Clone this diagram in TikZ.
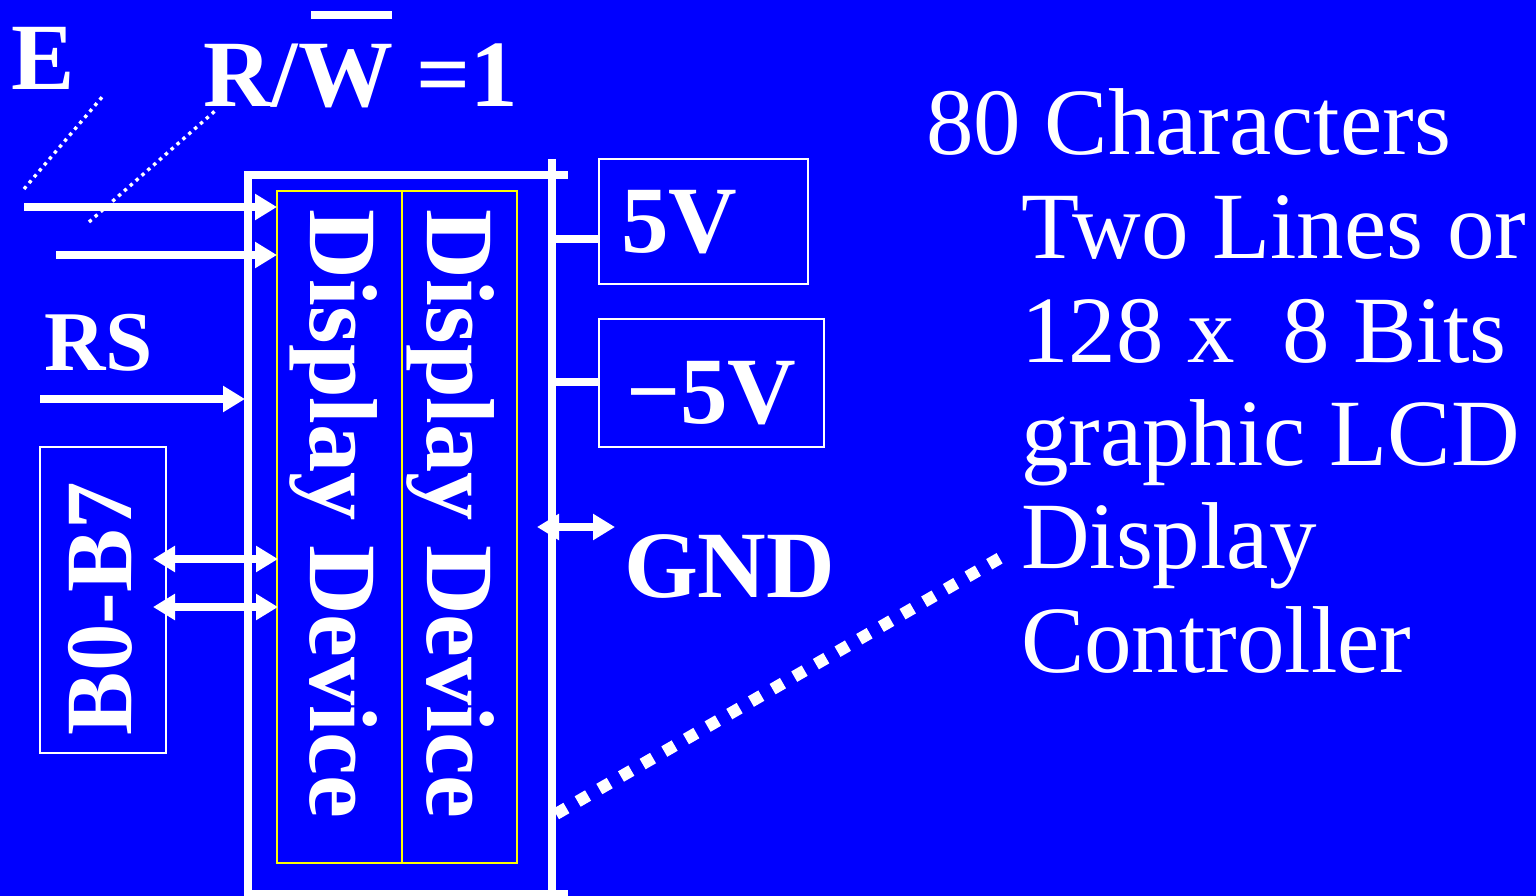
\documentclass[tikz,border=0pt]{standalone}
\usepackage{fontspec}
\setmainfont{Liberation Serif}
\usetikzlibrary{arrows.meta}
\definecolor{bgblue}{RGB}{0,0,255}
\definecolor{ylw}{RGB}{255,255,0}
\tikzset{
  wl/.style={draw=white,line width=7.5pt},
  arr/.style={wl,-{Triangle[length=22pt,width=25pt]}},
  darr/.style={wl,{Triangle[length=22pt,width=25pt]}-{Triangle[length=22pt,width=25pt]}},
  lbl/.style={text=white,font=\fontsize{95}{95}\selectfont\bfseries,inner sep=0pt,outer sep=0pt,anchor=base west},
  desc/.style={text=white,font=\fontsize{95}{95}\selectfont,inner sep=0pt,outer sep=0pt,anchor=base west},
  wbox/.style={draw=white,line width=2pt,inner sep=0pt,outer sep=0pt,anchor=north west},
  fine/.style={draw=white,line width=3.4pt,dash pattern=on 3.4pt off 4.4pt},
  coarse/.style={draw=white,line width=12pt,dash pattern=on 12pt off 13pt}
}
\begin{document}
\begin{tikzpicture}[x=1pt,y=-1pt]
\useasboundingbox (0,0) rectangle (1536,896);
\clip (0,0) rectangle (1536,896);
\fill[bgblue] (0,0) rectangle (1536,896);

% labels
\node[lbl] (E) at (12,90) {E};
\node[lbl] (RW) at (203,107) {R/W =1};
\coordinate (ov0) at (311,15);
\coordinate (ov1) at (392,15);
\draw[draw=white,line width=8pt] (ov0) -- (ov1);
\node[lbl,font=\fontsize{85}{85}\selectfont\bfseries] (RS) at (44,370) {RS};

% dotted pointers
\coordinate (pe0) at (24,189);
\coordinate (pe1) at (103,96);
\draw[fine] (pe0) -- (pe1);
\coordinate (pw0) at (89,222);
\coordinate (pw1) at (215,111);
\draw[fine] (pw0) -- (pw1);

% power boxes
\node[wbox,minimum width=209pt,minimum height=125pt] (b5) at (599,159) {};
\node[wbox,minimum width=225pt,minimum height=128pt] (bm5) at (599,319) {};
\node[lbl] (t5) at (621,252) {5V};
\node[lbl] (tm5) at (626,423) {−5V};
\node[lbl] (gnd) at (624,597) {GND};

% data box
\node[wbox,minimum width=126pt,minimum height=306pt] (bb) at (40,447) {};
\node[lbl,rotate=90] (b07) at (131,735) {B0-B7};

% LCD display device
\node[draw=ylw,line width=1.5pt,inner sep=0pt,outer sep=0pt,anchor=north west,minimum width=240pt,minimum height=672pt] (lcd) at (277,191) {};
\coordinate (dv0) at (402,191);
\coordinate (dv1) at (402,863);
\draw[draw=ylw,line width=1.5pt] (dv0) -- (dv1);
\node[lbl,font=\fontsize{96.5}{96.5}\selectfont\bfseries,rotate=-90] (dd1) at (310,210) {Display Device};
\node[lbl,font=\fontsize{96.5}{96.5}\selectfont\bfseries,rotate=-90] (dd2) at (427,210) {Display Device};

% frame
\coordinate (fl0) at (248,175);
\coordinate (fl1) at (248,900);
\coordinate (ft0) at (244,175);
\coordinate (ft1) at (568,175);
\coordinate (fr0) at (552,159);
\coordinate (fr1) at (552,900);
\coordinate (fb0) at (244,894);
\coordinate (fb1) at (568,894);
\draw[wl] (fl0) -- (fl1);
\draw[wl] (ft0) -- (ft1);
\draw[wl] (fr0) -- (fr1);
\draw[wl] (fb0) -- (fb1);

% signal arrows
\coordinate (e0) at (24,207);
\coordinate (e1) at (277,207);
\draw[arr] (e0) -- (e1);
\coordinate (w0) at (56,255);
\coordinate (w1) at (277,255);
\draw[arr] (w0) -- (w1);
\coordinate (r0) at (40,399);
\coordinate (r1) at (245,399);
\draw[arr] (r0) -- (r1);
\coordinate (da0) at (153,559);
\coordinate (da1) at (278,559);
\draw[darr] (da0) -- (da1);
\coordinate (db0) at (153,607);
\coordinate (db1) at (278,607);
\draw[darr] (db0) -- (db1);
\coordinate (g0) at (537,527);
\coordinate (g1) at (615,527);
\draw[darr] (g0) -- (g1);

% power connectors
\coordinate (p50) at (552,239);
\coordinate (p51) at (599,239);
\draw[wl] (p50) -- (p51);
\coordinate (pm0) at (552,382);
\coordinate (pm1) at (599,382);
\draw[wl] (pm0) -- (pm1);

% description
\coordinate (cd0) at (556,814);
\coordinate (cd1) at (1000,558);
\draw[coarse] (cd0) -- (cd1);
\node[desc] (d1) at (926,155) {80 Characters};
\node[desc] (d2) at (1021,258) {Two Lines or};
\node[desc] (d3) at (1021,362) {128 x~~8 Bits};
\node[desc] (d4) at (1021,465) {graphic LCD};
\node[desc] (d5) at (1021,568) {Display};
\node[desc] (d6) at (1021,672) {Controller};
\end{tikzpicture}
\end{document}
